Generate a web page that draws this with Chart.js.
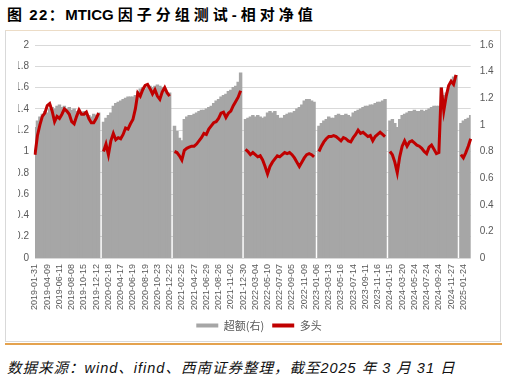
<!DOCTYPE html>
<html>
<head>
<meta charset="utf-8">
<script src="https://cdn.jsdelivr.net/npm/chart.js@4.4.1/dist/chart.umd.min.js"></script>
<style>
  body { margin: 0; background: #fff; width: 508px; height: 376px; position: relative; overflow: hidden; }
  #title { position: absolute; left: 7px; top: 3px; font: bold 15px "Liberation Sans", "Noto Sans CJK SC", sans-serif; color: #000; white-space: nowrap; }
  #title .cjk { letter-spacing: 4px; }
  #title .pre { letter-spacing: 1.5px; }
  #box { position: absolute; left: 5px; top: 30px; width: 496px; height: 312px; box-sizing: border-box; border: 1px solid #d9d9d9; border-top-color: #ecdcc6; }
  #rule { position: absolute; left: 5px; top: 343px; width: 497px; height: 2px; background: #e4a24e; }
  #chartWrap { position: absolute; left: 6px; top: 30px; width: 494px; height: 311px; }
  #source { position: absolute; left: 7px; top: 356px; font: italic 14.5px "Liberation Sans", "Noto Sans CJK SC", sans-serif; color: #111; letter-spacing: 1px; white-space: nowrap; }
</style>
</head>
<body>
<div id="title"><span class="pre">图 22：</span>MTICG <span class="cjk">因子分组测试-相对净值</span></div>
<div id="box"></div>
<div id="chartWrap"><canvas id="chart" width="494" height="311"></canvas></div>
<div id="rule"></div>
<div id="source">数据来源：wind、ifind、西南证券整理，截至2025 年 3 月 31 日</div>
<script>
// Tick dates shown on the x axis (one every 5 points)
const tickDates = [
    '2019-01-31', '2019-04-09', '2019-06-11', '2019-08-08', '2019-10-15', '2019-12-12',
    '2020-02-18', '2020-04-17', '2020-06-19', '2020-08-19', '2020-10-23', '2020-12-22',
    '2021-02-25', '2021-04-27', '2021-06-29', '2021-08-26', '2021-11-02', '2021-12-30',
    '2022-03-04', '2022-05-10', '2022-07-07', '2022-09-05', '2022-11-09', '2023-01-06',
    '2023-03-13', '2023-05-16', '2023-07-14', '2023-09-11', '2023-11-16', '2024-01-15',
    '2024-03-20', '2024-05-24', '2024-07-24', '2024-09-24', '2024-11-27', '2025-01-24'
];
const pointsPerTick = 5;

const leftTickLabels = ['0', '0.2', '0.4', '0.6', '0.8', '1', '1.2', '1.4', '1.6', '1.8', '2'];
const rightTickLabels = ['0', '0.2', '0.4', '0.6', '0.8', '1', '1.2', '1.4', '1.6'];

// 超额(右) - excess, right axis, reset every year
const excess2019 = [0.98, 1.03, 1.06, 1.08, 1.10, 1.09, 1.12, 1.13, 1.12, 1.14, 1.15, 1.13, 1.14, 1.12, 1.13, 1.11, 1.12, 1.10, 1.11, 1.09, 1.10, 1.08, 1.07, 1.06, 1.08, 1.07, 1.09];
const excess2020 = [1.02, 1.05, 1.07, 1.09, 1.14, 1.16, 1.17, 1.18, 1.19, 1.20, 1.21, 1.21, 1.21, 1.22, 1.25, 1.27, 1.28, 1.27, 1.28, 1.29, 1.28, 1.29, 1.30, 1.29, 1.28, 1.25, 1.24, 1.24];
const excess2021 = [0.99, 0.95, 0.90, 0.88, 1.04, 1.06, 1.07, 1.07, 1.08, 1.09, 1.10, 1.11, 1.11, 1.12, 1.13, 1.14, 1.16, 1.18, 1.19, 1.21, 1.22, 1.23, 1.25, 1.26, 1.28, 1.29, 1.32, 1.39];
const excess2022 = [1.04, 1.05, 1.06, 1.07, 1.06, 1.07, 1.06, 1.05, 1.06, 1.09, 1.10, 1.09, 1.10, 1.07, 1.05, 1.05, 1.07, 1.08, 1.09, 1.09, 1.10, 1.12, 1.13, 1.15, 1.18, 1.19, 1.19, 1.18, 1.17];
const excess2023 = [0.99, 1.01, 1.03, 1.04, 1.06, 1.05, 1.05, 1.07, 1.08, 1.07, 1.07, 1.08, 1.07, 1.06, 1.09, 1.10, 1.11, 1.12, 1.13, 1.14, 1.14, 1.15, 1.15, 1.16, 1.17, 1.17, 1.18, 1.19];
const excess2024 = [1.03, 1.04, 1.01, 0.98, 1.04, 1.07, 1.08, 1.09, 1.10, 1.10, 1.11, 1.10, 1.10, 1.11, 1.10, 1.11, 1.12, 1.13, 1.14, 1.14, 1.14, 1.28, 1.22, 1.24, 1.28, 1.32, 1.36, 1.37];
const excess2025 = [1.01, 1.03, 1.04, 1.05, 1.07];

// 多头 - long leg, left axis, reset every year
const long2019 = [0.97, 1.15, 1.25, 1.33, 1.36, 1.43, 1.45, 1.38, 1.28, 1.33, 1.31, 1.35, 1.40, 1.38, 1.35, 1.28, 1.26, 1.33, 1.39, 1.35, 1.35, 1.37, 1.31, 1.27, 1.27, 1.31, 1.36];
const long2020 = [1.00, 1.07, 0.97, 1.10, 1.17, 1.11, 1.13, 1.12, 1.16, 1.22, 1.21, 1.26, 1.30, 1.40, 1.55, 1.52, 1.58, 1.62, 1.63, 1.59, 1.54, 1.58, 1.52, 1.49, 1.56, 1.60, 1.55, 1.52];
const long2021 = [1.00, 0.99, 0.96, 0.92, 1.01, 1.03, 1.04, 1.05, 1.05, 1.07, 1.10, 1.13, 1.17, 1.16, 1.21, 1.24, 1.27, 1.28, 1.31, 1.36, 1.37, 1.32, 1.36, 1.38, 1.43, 1.47, 1.51, 1.57];
const long2022 = [1.02, 1.00, 0.97, 0.99, 0.97, 0.95, 0.96, 0.92, 0.86, 0.79, 0.86, 0.90, 0.93, 0.96, 0.95, 0.97, 0.99, 0.98, 0.99, 0.97, 0.94, 0.90, 0.86, 0.90, 0.94, 0.97, 0.98, 0.97, 0.95];
const long2023 = [1.00, 1.05, 1.09, 1.12, 1.14, 1.14, 1.15, 1.14, 1.12, 1.10, 1.13, 1.12, 1.10, 1.09, 1.13, 1.16, 1.20, 1.17, 1.18, 1.16, 1.14, 1.15, 1.10, 1.14, 1.16, 1.18, 1.16, 1.14];
const long2024 = [1.00, 0.97, 0.90, 0.80, 0.95, 1.05, 1.10, 1.05, 1.09, 1.10, 1.08, 1.06, 1.05, 1.03, 1.00, 0.98, 1.04, 1.06, 1.02, 0.98, 0.99, 1.60, 1.38, 1.52, 1.62, 1.66, 1.63, 1.72];
const long2025 = [0.97, 0.94, 0.99, 1.05, 1.12];

// join the years with a blank point between them
function joinYears(years) {
    let out = [];
    years.forEach((y, i) => {
        if (i > 0) out.push(null);
        out = out.concat(y);
    });
    return out;
}

const excessData = joinYears([excess2019, excess2020, excess2021, excess2022, excess2023, excess2024, excess2025]);
const longData = joinYears([long2019, long2020, long2021, long2022, long2023, long2024, long2025]);
const labels = excessData.map((_, i) => (i % pointsPerTick === 0 && tickDates[i / pointsPerTick]) ? tickDates[i / pointsPerTick] : '');

const tickFont = { family: '"Liberation Sans", sans-serif', size: 10 };
const tickColor = '#595959';

const ctx = document.getElementById('chart').getContext('2d');
const chart = new Chart(ctx, {
    data: {
        labels: labels,
        datasets: [{
            type: 'line',
            label: '多头',
            data: longData,
            yAxisID: 'y',
            borderColor: '#c00000',
            backgroundColor: '#c00000',
            borderWidth: 3,
            pointRadius: 0,
            tension: 0,
            spanGaps: false,
            order: 0
        }, {
            type: 'bar',
            label: '超额(右)',
            data: excessData,
            yAxisID: 'y1',
            backgroundColor: '#a6a6a6',
            borderWidth: 0,
            inflateAmount: 0.5,
            barPercentage: 1,
            categoryPercentage: 1,
            order: 1
        }]
    },
    options: {
        responsive: false,
        animation: false,
        devicePixelRatio: 1,
        layout: { padding: { top: 14, left: 12, right: 0, bottom: 0 } },
        plugins: {
            tooltip: { enabled: false },
            legend: {
                position: 'bottom',
                reverse: true,
                labels: {
                    boxWidth: 22,
                    boxHeight: 4,
                    padding: 8,
                    color: '#595959',
                    font: { family: '"Noto Sans CJK SC", sans-serif', size: 11 },
                    generateLabels: (c) => c.data.datasets.map((ds, i) => ({
                        text: ds.label,
                        fillStyle: ds.type === 'line' ? ds.borderColor : ds.backgroundColor,
                        strokeStyle: 'rgba(0,0,0,0)',
                        lineWidth: 0,
                        fontColor: '#595959',
                        datasetIndex: i
                    }))
                }
            }
        },
        scales: {
            x: {
                type: 'category',
                offset: false,
                grid: { display: false, drawTicks: false },
                border: { display: false },
                ticks: {
                    autoSkip: false,
                    minRotation: 90,
                    maxRotation: 90,
                    padding: 6,
                    color: tickColor,
                    font: { family: '"Liberation Sans", sans-serif', size: 9 }
                },
                afterFit: (s) => { s.height = 54; }
            },
            y: {
                position: 'left',
                min: 0,
                max: 2,
                grid: { color: '#d9d9d9', drawTicks: false },
                border: { display: false },
                ticks: {
                    stepSize: 0.2,
                    padding: 6,
                    color: tickColor,
                    font: tickFont,
                    callback: (v, i) => leftTickLabels[i]
                },
                afterFit: (s) => { s.width = 17; }
            },
            y1: {
                position: 'right',
                min: 0,
                max: 1.6,
                grid: { display: false, drawTicks: false },
                border: { display: false },
                ticks: {
                    stepSize: 0.2,
                    padding: 9,
                    color: tickColor,
                    font: tickFont,
                    callback: (v, i) => rightTickLabels[i]
                },
                afterFit: (s) => { s.width = 29.3; }
            }
        }
    }
});
</script>
</body>
</html>
